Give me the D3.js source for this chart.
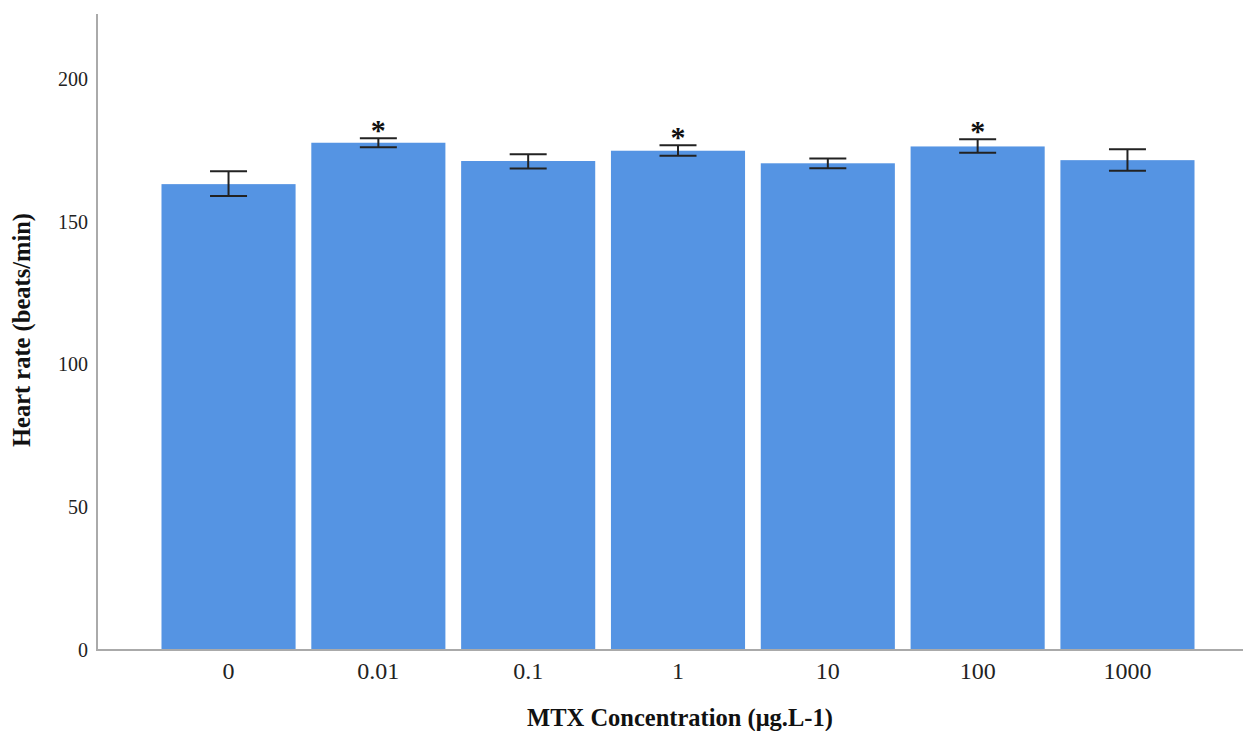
<!DOCTYPE html>
<html><head><meta charset="utf-8">
<script src="https://cdn.jsdelivr.net/npm/d3@7"></script>
<style>body{margin:0;background:#fff}</style>
</head><body>
<svg id="c" width="1244" height="731"></svg>
<script>
const categories = ["0","0.01","0.1","1","10","100","1000"];
const means = [163.2, 177.7, 171.3, 174.9, 170.5, 176.4, 171.6];
const upper = [167.7, 179.3, 173.7, 176.8, 172.2, 178.9, 175.4];
const lower = [159.0, 176.1, 168.7, 173.1, 168.8, 174.2, 167.9];
const significant = [false, true, false, true, false, true, false];
const yTicks = [0, 50, 100, 150, 200];

const svg = d3.select("#c");
const font = "'Liberation Serif', 'Times New Roman', serif";
const y = d3.scaleLinear().domain([0, 222.8]).range([650, 14]);
const x = d3.scaleBand().domain(categories).range([154, 1202]).paddingInner(0.105).paddingOuter(0.05);

// bars
svg.selectAll("rect.bar").data(means).enter().append("rect")
  .attr("x", (d,i)=>x(categories[i])).attr("width", x.bandwidth())
  .attr("y", d=>y(d)).attr("height", d=>y(0)-y(d))
  .attr("fill", "#5594e3");

// axes
const ya = d3.axisLeft(y).tickValues(yTicks).tickSize(0).tickPadding(9);
const gy = svg.append("g").attr("transform","translate(97,0)").call(ya);
gy.select(".domain").remove();
gy.selectAll("text").attr("font-family", font).attr("font-size", 20).attr("fill","#222");
svg.append("line").attr("x1",97).attr("x2",97).attr("y1",14).attr("y2",650).attr("stroke","#aaa").attr("stroke-width",2);

const xa = d3.axisBottom(x).tickSize(0).tickPadding(12);
const gx = svg.append("g").attr("transform","translate(0,650)").call(xa);
gx.select(".domain").remove();
gx.selectAll("text").attr("font-family", font).attr("font-size", 24).attr("fill","#222");
svg.append("line").attr("x1",96).attr("x2",1243).attr("y1",650).attr("y2",650).attr("stroke","#aaa").attr("stroke-width",2);

// error bars
const capW = 18.5;
categories.forEach((c,i)=>{
  const cx = x(c) + x.bandwidth()/2;
  const g = svg.append("g").attr("stroke","#222").attr("stroke-width",2);
  g.append("line").attr("x1",cx).attr("x2",cx).attr("y1",y(upper[i])).attr("y2",y(lower[i]));
  g.append("line").attr("x1",cx-capW).attr("x2",cx+capW).attr("y1",y(upper[i])).attr("y2",y(upper[i]));
  g.append("line").attr("x1",cx-capW).attr("x2",cx+capW).attr("y1",y(lower[i])).attr("y2",y(lower[i]));
  if (significant[i]) {
    svg.append("text").attr("x",cx).attr("y",y(upper[i])+2).attr("text-anchor","middle")
      .attr("font-family", font).attr("font-weight","bold").attr("font-size",30).attr("fill","#111").text("*");
  }
});

// titles
svg.append("text").attr("x",680).attr("y",726).attr("text-anchor","middle")
  .attr("font-family",font).attr("font-weight","bold").attr("font-size",24.5).attr("fill","#111")
  .text("MTX Concentration (μg.L-1)");
svg.append("text").attr("transform","translate(30,330) rotate(-90)").attr("text-anchor","middle")
  .attr("font-family",font).attr("font-weight","bold").attr("font-size",24.5).attr("fill","#111")
  .text("Heart rate (beats/min)");
</script>
</body></html>
